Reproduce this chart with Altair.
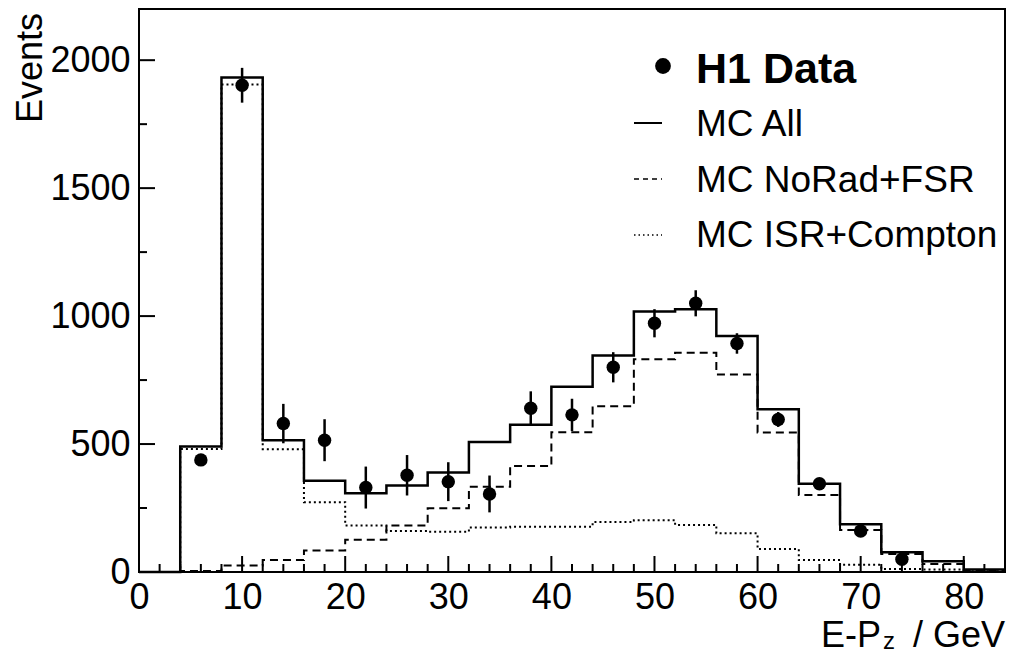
import altair as alt
import pandas as pd

# ---- data ----
bin_lo = [0, 4, 8, 12, 16, 20, 24, 28, 32, 36, 40, 44, 48, 52, 56, 60, 64, 68, 72, 76, 80]
x_max = 84
mc_all = [0, 490, 1932, 515, 357, 308, 338, 389, 508, 575, 724, 846, 1018, 1027, 922, 636, 345, 187, 77, 42, 10]
mc_norad = [0, 4, 25, 47, 84, 126, 182, 249, 333, 414, 546, 648, 831, 857, 772, 545, 301, 164, 70, 31, 5]
mc_isr = [0, 481, 1905, 480, 273, 182, 160, 157, 174, 177, 177, 195, 202, 184, 151, 90, 47, 28, 12, 10, 3]

data_x = [6, 10, 14, 18, 22, 26, 30, 34, 38, 42, 46, 50, 54, 58, 62, 66, 70, 74]
data_y = [438, 1902, 580, 515, 330, 378, 353, 305, 640, 614, 800, 972, 1050, 893, 596, 345, 160, 50]
data_err = [21, 68, 77, 82, 82, 79, 76, 72, 66, 63, 59, 55, 51, 40, 29, 20, 13, 8]

x_major = [0, 10, 20, 30, 40, 50, 60, 70, 80]
x_minor = [v for v in range(2, 84, 2) if v % 10 != 0]
y_major = [0, 500, 1000, 1500, 2000]
y_minor = [250, 750, 1250, 1750]

legend_labels = ["H1 Data", "MC All", "MC NoRad+FSR", "MC ISR+Compton"]
x_title_parts = ["E-P", "z", "/ GeV"]
y_title = "Events"

FONT = "Liberation Sans"
W, H = 866, 563

xs = alt.Scale(domain=[0, x_max], nice=False, zero=False)
ys = alt.Scale(domain=[0, 2200], nice=False)

def step_df(vals):
    return pd.DataFrame({"x": bin_lo + [x_max], "y": vals + [vals[-1]]})

xax = alt.Axis(values=x_major, ticks=False, domain=False, grid=False, labelFont=FONT,
               labelFontSize=36, labelColor="black", labelPadding=8, labelFlush=False,
               labelOverlap=False, format="d", title=None)
yax = alt.Axis(values=y_major, ticks=False, domain=False, grid=False, labelFont=FONT,
               labelFontSize=36, labelColor="black", labelPadding=9, labelOverlap=False,
               format="d", title=None)

base_x = alt.X("x:Q", scale=xs, axis=xax)
base_y = alt.Y("y:Q", scale=ys, axis=yax)

h_all = alt.Chart(step_df(mc_all)).mark_line(interpolate="step-after", color="black", strokeWidth=2.5).encode(x=base_x, y=base_y)
h_norad = alt.Chart(step_df(mc_norad)).mark_line(interpolate="step-after", color="black", strokeWidth=2, strokeDash=[8, 5]).encode(
    x=alt.X("x:Q", scale=xs), y=alt.Y("y:Q", scale=ys))
h_isr = alt.Chart(step_df(mc_isr)).mark_line(interpolate="step-after", color="black", strokeWidth=2, strokeDash=[2, 3]).encode(
    x=alt.X("x:Q", scale=xs), y=alt.Y("y:Q", scale=ys))

ddf = pd.DataFrame({"x": data_x, "y": data_y, "err": data_err})
ddf["lo"] = ddf["y"] - ddf["err"]
ddf["hi"] = ddf["y"] + ddf["err"]

err = alt.Chart(ddf).mark_rule(color="black", strokeWidth=2.5).encode(
    x=alt.X("x:Q", scale=xs), y=alt.Y("lo:Q", scale=ys), y2="hi:Q")
pts = alt.Chart(ddf).mark_circle(color="black", opacity=1, size=180).encode(
    x=alt.X("x:Q", scale=xs), y=alt.Y("y:Q", scale=ys))

# inward ticks
tx_major = alt.Chart(pd.DataFrame({"x": x_major})).mark_rule(color="black", strokeWidth=2).encode(
    x=alt.X("x:Q", scale=xs), y=alt.value(H), y2=alt.value(H - 16))
tx_minor = alt.Chart(pd.DataFrame({"x": x_minor})).mark_rule(color="black", strokeWidth=2).encode(
    x=alt.X("x:Q", scale=xs), y=alt.value(H), y2=alt.value(H - 8))
ty_major = alt.Chart(pd.DataFrame({"y": y_major})).mark_rule(color="black", strokeWidth=2).encode(
    y=alt.Y("y:Q", scale=ys), x=alt.value(0), x2=alt.value(16))
ty_minor = alt.Chart(pd.DataFrame({"y": y_minor})).mark_rule(color="black", strokeWidth=2).encode(
    y=alt.Y("y:Q", scale=ys), x=alt.value(0), x2=alt.value(8))

def txt(label, x, y, size=36, bold=False, align="left", baseline="alphabetic", angle=0):
    kw = dict(font=FONT, fontSize=size, color="black", align=align, baseline=baseline,
              fontWeight="bold" if bold else "normal")
    if angle:
        kw["angle"] = angle
    return alt.Chart(pd.DataFrame({"t": [label]})).mark_text(**kw).encode(
        x=alt.value(x), y=alt.value(y), text="t:N")

one = pd.DataFrame({"k": [0]})
leg_dot = alt.Chart(one).mark_circle(color="black", opacity=1, size=250).encode(x=alt.value(524), y=alt.value(57))
leg_solid = alt.Chart(one).mark_rule(color="black", strokeWidth=2).encode(x=alt.value(495), x2=alt.value(523), y=alt.value(114))
leg_dash = alt.Chart(one).mark_rule(color="black", strokeWidth=1.5, strokeDash=[5, 4]).encode(x=alt.value(495), x2=alt.value(523), y=alt.value(170))
leg_dot2 = alt.Chart(one).mark_rule(color="black", strokeWidth=1.5, strokeDash=[1.5, 3]).encode(x=alt.value(495), x2=alt.value(523), y=alt.value(226))

leg_t0 = txt(legend_labels[0], 557, 74, size=43, bold=True)
leg_t1 = txt(legend_labels[1], 557, 127, size=37)
leg_t2 = txt(legend_labels[2], 557, 183, size=37)
leg_t3 = txt(legend_labels[3], 557, 238, size=37)

xt1 = txt(x_title_parts[0], 742, 638, align="right")
xt2 = txt(x_title_parts[1], 744, 640, size=24)
xt3 = txt(x_title_parts[2], 866, 638, align="right")
yt = txt(y_title, -97, 4, align="right", angle=270)

chart = alt.layer(
    h_isr, h_norad, h_all, err, pts,
    tx_major, tx_minor, ty_major, ty_minor,
    leg_dot, leg_solid, leg_dash, leg_dot2, leg_t0, leg_t1, leg_t2, leg_t3,
    xt1, xt2, xt3, yt,
).properties(
    width=W, height=H,
    padding={"left": 131, "top": 1, "right": 1, "bottom": 82},
    autosize=alt.AutoSizeParams(type="none"),
    background="white",
).configure_view(
    stroke="black", strokeWidth=2, fill="white"
)

chart.save("out.html", embed_options={"renderer": "svg", "actions": False})
